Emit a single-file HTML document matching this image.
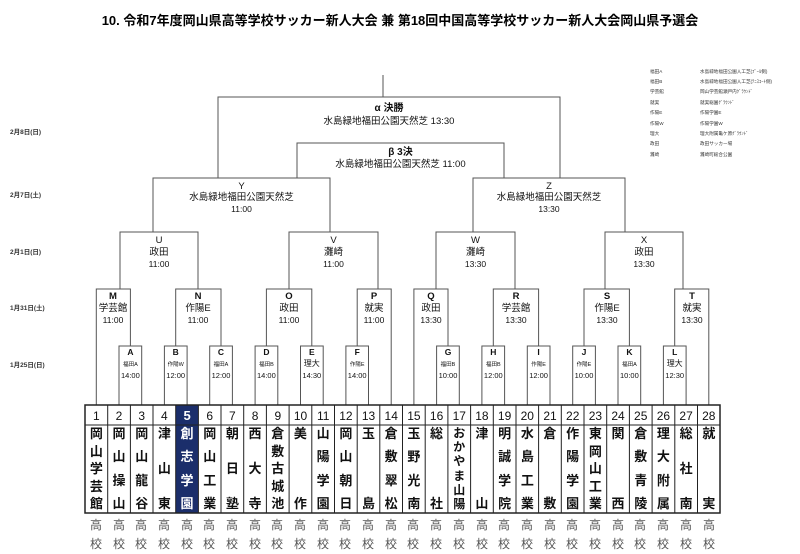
<!DOCTYPE html>
<html><head><meta charset="utf-8"><style>
html,body{margin:0;padding:0;background:#fff;}
body{width:800px;height:554px;position:relative;overflow:hidden;font-family:"Liberation Sans","Noto Sans CJK JP",sans-serif;}
svg{position:absolute;left:0;top:0;}
.nm{position:absolute;top:427px;height:84px;display:flex;flex-direction:column;justify-content:space-between;align-items:center;font-weight:bold;font-size:13px;line-height:14px;color:#111;}
.nm.c{justify-content:space-between;}
.hk{position:absolute;top:516px;font-size:12px;line-height:19px;color:#555;text-align:center;width:22px;}
</style></head><body>
<svg width="800" height="554" viewBox="0 0 800 554" font-family="Liberation Sans, Noto Sans CJK JP, sans-serif">
<text x="400" y="25" text-anchor="middle" font-size="13" font-weight="bold">10. 令和7年度岡山県高等学校サッカー新人大会 兼 第18回中国高等学校サッカー新人大会岡山県予選会</text>
<g font-size="6.5" fill="#333" font-weight="bold">
<text x="10" y="134">2月8日(日)</text>
<text x="10" y="197">2月7日(土)</text>
<text x="10" y="254">2月1日(日)</text>
<text x="10" y="310">1月31日(土)</text>
<text x="10" y="367">1月25日(日)</text>
</g>
<g font-size="4.6" fill="#333">
<text x="650" y="73">福田A</text><text x="700" y="73">水島緑地福田公園人工芝(ﾌﾟｰﾙ側)</text>
<text x="650" y="83">福田B</text><text x="700" y="83">水島緑地福田公園人工芝(ﾃﾆｽｺｰﾄ側)</text>
<text x="650" y="93">学芸館</text><text x="700" y="93">岡山学芸館瀬戸内ｸﾞﾗｳﾝﾄﾞ</text>
<text x="650" y="104">就実</text><text x="700" y="104">就実総園ｸﾞﾗｳﾝﾄﾞ</text>
<text x="650" y="114">作陽E</text><text x="700" y="114">作陽学園E</text>
<text x="650" y="125">作陽W</text><text x="700" y="125">作陽学園W</text>
<text x="650" y="135">理大</text><text x="700" y="135">理大附属亀ケ原ｸﾞﾗｳﾝﾄﾞ</text>
<text x="650" y="145">政田</text><text x="700" y="145">政田サッカー場</text>
<text x="650" y="156">灘崎</text><text x="700" y="156">灘崎町総合公園</text>
</g>
<g fill="none" stroke="#555" stroke-width="1">
<path d="M383,75V97M218,178V97H560V178M297,178V143H504V178"/>
<path d="M153,232V178H330V232M473,232V178H625V232"/>
<path d="M120,289V232H198V289M289,289V232H378V289M436,289V232H515V289M605,289V232H683V289"/>
<path d="M96.3,405V289H130.4V346M175.7,346V289H221V346M266.4,346V289H311.8V346M357.2,346V289H391.2V405"/>
<path d="M413.9,405V289H448V346M493.3,346V289H538.6V346M584,346V289H629.4V346M674.7,346V289H708.8V405"/>
<path d="M119,405V346H141.7V405M164.4,405V346H187.1V405M209.7,405V346H232.4V405M255.1,405V346H277.8V405M300.5,405V346H323.2V405M345.9,405V346H368.5V405"/>
<path d="M436.6,405V346H459.3V405M481.9,405V346H504.6V405M527.3,405V346H550V405M572.7,405V346H595.4V405M618,405V346H640.7V405M663.4,405V346H686.1V405"/>
</g>
<g text-anchor="middle" fill="#111">
<text x="389" y="111" font-size="10" font-weight="bold">α 決勝</text>
<text x="389" y="124" font-size="9.5">水島緑地福田公園天然芝 13:30</text>
<text x="400.5" y="155" font-size="10" font-weight="bold">β 3決</text>
<text x="400.5" y="167" font-size="9.5">水島緑地福田公園天然芝 11:00</text>
<g font-size="9.5">
<text x="241.5" y="189">Y</text><text x="241.5" y="200">水島緑地福田公園天然芝</text><text x="241.5" y="212" font-size="8.5">11:00</text>
<text x="549" y="189">Z</text><text x="549" y="200">水島緑地福田公園天然芝</text><text x="549" y="212" font-size="8.5">13:30</text>
<text x="159" y="243">U</text><text x="159" y="255">政田</text><text x="159" y="267" font-size="8.5">11:00</text>
<text x="333.5" y="243">V</text><text x="333.5" y="255">灘崎</text><text x="333.5" y="267" font-size="8.5">11:00</text>
<text x="475.5" y="243">W</text><text x="475.5" y="255">灘崎</text><text x="475.5" y="267" font-size="8.5">13:30</text>
<text x="644" y="243">X</text><text x="644" y="255">政田</text><text x="644" y="267" font-size="8.5">13:30</text>
</g>
<g font-size="9.5">
<text x="113" y="299" font-weight="bold">M</text><text x="113" y="311">学芸館</text><text x="113" y="323" font-size="8.5">11:00</text>
<text x="198" y="299" font-weight="bold">N</text><text x="198" y="311">作陽E</text><text x="198" y="323" font-size="8.5">11:00</text>
<text x="289" y="299" font-weight="bold">O</text><text x="289" y="311">政田</text><text x="289" y="323" font-size="8.5">11:00</text>
<text x="374" y="299" font-weight="bold">P</text><text x="374" y="311">就実</text><text x="374" y="323" font-size="8.5">11:00</text>
<text x="431" y="299" font-weight="bold">Q</text><text x="431" y="311">政田</text><text x="431" y="323" font-size="8.5">13:30</text>
<text x="516" y="299" font-weight="bold">R</text><text x="516" y="311">学芸館</text><text x="516" y="323" font-size="8.5">13:30</text>
<text x="607" y="299" font-weight="bold">S</text><text x="607" y="311">作陽E</text><text x="607" y="323" font-size="8.5">13:30</text>
<text x="692" y="299" font-weight="bold">T</text><text x="692" y="311">就実</text><text x="692" y="323" font-size="8.5">13:30</text>
</g>
<g font-size="8.5" font-weight="bold">
<text x="130.4" y="355">A</text><text x="175.7" y="355">B</text><text x="221" y="355">C</text><text x="266.4" y="355">D</text><text x="311.8" y="355">E</text><text x="357.2" y="355">F</text>
<text x="448" y="355">G</text><text x="493.3" y="355">H</text><text x="538.6" y="355">I</text><text x="584" y="355">J</text><text x="629.4" y="355">K</text><text x="674.7" y="355">L</text>
</g>
<g font-size="5.5">
<text x="130.4" y="366">福田A</text><text x="175.7" y="366">作陽W</text><text x="221" y="366">福田A</text><text x="266.4" y="366">福田B</text><text x="311.8" y="366" font-size="8">理大</text><text x="357.2" y="366">作陽E</text>
<text x="448" y="366">福田B</text><text x="493.3" y="366">福田B</text><text x="538.6" y="366">作陽E</text><text x="584" y="366">作陽E</text><text x="629.4" y="366">福田A</text><text x="674.7" y="366" font-size="8">理大</text>
</g>
<g font-size="7.5">
<text x="130.4" y="378">14:00</text><text x="175.7" y="378">12:00</text><text x="221" y="378">12:00</text><text x="266.4" y="378">14:00</text><text x="311.8" y="378">14:30</text><text x="357.2" y="378">14:00</text>
<text x="448" y="378">10:00</text><text x="493.3" y="378">12:00</text><text x="538.6" y="378">12:00</text><text x="584" y="378">10:00</text><text x="629.4" y="378">10:00</text><text x="674.7" y="378">12:30</text>
</g>
</g>
<rect x="175.7" y="405" width="22.7" height="108" fill="#1b2e6b"/>
<g stroke="#222" stroke-width="1" fill="none">
<rect x="85" y="405" width="635" height="108" stroke-width="1.5"/>
<line x1="85" y1="425" x2="720" y2="425"/>
<path d="M107.7,405V513M130.4,405V513M153,405V513M175.7,405V513M198.4,405V513M221,405V513M243.7,405V513M266.4,405V513M289.1,405V513M311.8,405V513M334.5,405V513M357.2,405V513M379.8,405V513M402.5,405V513M425.2,405V513M447.9,405V513M470.6,405V513M493.3,405V513M516,405V513M538.6,405V513M561.3,405V513M584,405V513M606.7,405V513M629.4,405V513M652.1,405V513M674.8,405V513M697.5,405V513"/>
</g>
<g font-size="12" text-anchor="middle" fill="#111">
<text x="96.3" y="420">1</text><text x="119" y="420">2</text><text x="141.7" y="420">3</text><text x="164.4" y="420">4</text><text x="187.1" y="420" fill="#fff" font-weight="bold" font-size="13">5</text><text x="209.7" y="420">6</text><text x="232.4" y="420">7</text><text x="255.1" y="420">8</text><text x="277.8" y="420">9</text><text x="300.5" y="420">10</text><text x="323.2" y="420">11</text><text x="345.9" y="420">12</text><text x="368.5" y="420">13</text><text x="391.2" y="420">14</text>
<text x="413.9" y="420">15</text><text x="436.6" y="420">16</text><text x="459.3" y="420">17</text><text x="481.9" y="420">18</text><text x="504.6" y="420">19</text><text x="527.3" y="420">20</text><text x="550" y="420">21</text><text x="572.7" y="420">22</text><text x="595.4" y="420">23</text><text x="618" y="420">24</text><text x="640.7" y="420">25</text><text x="663.4" y="420">26</text><text x="686.1" y="420">27</text><text x="708.8" y="420">28</text>
</g>
</svg>
<div class="nm" style="left:85px;width:22.7px"><span>岡</span><span>山</span><span>学</span><span>芸</span><span>館</span></div>
<div class="nm" style="left:107.7px;width:22.7px"><span>岡</span><span>山</span><span>操</span><span>山</span></div>
<div class="nm" style="left:130.4px;width:22.7px"><span>岡</span><span>山</span><span>龍</span><span>谷</span></div>
<div class="nm" style="left:153px;width:22.7px"><span>津</span><span>山</span><span>東</span></div>
<div class="nm" style="left:175.7px;width:22.7px;color:#fff"><span>創</span><span>志</span><span>学</span><span>園</span></div>
<div class="nm" style="left:198.4px;width:22.7px"><span>岡</span><span>山</span><span>工</span><span>業</span></div>
<div class="nm" style="left:221px;width:22.7px"><span>朝</span><span>日</span><span>塾</span></div>
<div class="nm" style="left:243.7px;width:22.7px"><span>西</span><span>大</span><span>寺</span></div>
<div class="nm" style="left:266.4px;width:22.7px"><span>倉</span><span>敷</span><span>古</span><span>城</span><span>池</span></div>
<div class="nm" style="left:289.1px;width:22.7px"><span>美</span><span>作</span></div>
<div class="nm" style="left:311.8px;width:22.7px"><span>山</span><span>陽</span><span>学</span><span>園</span></div>
<div class="nm" style="left:334.5px;width:22.7px"><span>岡</span><span>山</span><span>朝</span><span>日</span></div>
<div class="nm" style="left:357.2px;width:22.7px"><span>玉</span><span>島</span></div>
<div class="nm" style="left:379.8px;width:22.7px"><span>倉</span><span>敷</span><span>翠</span><span>松</span></div>
<div class="nm" style="left:402.5px;width:22.7px"><span>玉</span><span>野</span><span>光</span><span>南</span></div>
<div class="nm" style="left:425.2px;width:22.7px"><span>総</span><span>社</span></div>
<div class="nm" style="left:447.9px;width:22.7px;font-size:12px;line-height:13px"><span>お</span><span>か</span><span>や</span><span>ま</span><span>山</span><span>陽</span></div>
<div class="nm" style="left:470.6px;width:22.7px"><span>津</span><span>山</span></div>
<div class="nm" style="left:493.3px;width:22.7px"><span>明</span><span>誠</span><span>学</span><span>院</span></div>
<div class="nm" style="left:516px;width:22.7px"><span>水</span><span>島</span><span>工</span><span>業</span></div>
<div class="nm" style="left:538.6px;width:22.7px"><span>倉</span><span>敷</span></div>
<div class="nm" style="left:561.3px;width:22.7px"><span>作</span><span>陽</span><span>学</span><span>園</span></div>
<div class="nm" style="left:584px;width:22.7px"><span>東</span><span>岡</span><span>山</span><span>工</span><span>業</span></div>
<div class="nm" style="left:606.7px;width:22.7px"><span>関</span><span>西</span></div>
<div class="nm" style="left:629.4px;width:22.7px"><span>倉</span><span>敷</span><span>青</span><span>陵</span></div>
<div class="nm" style="left:652.1px;width:22.7px"><span>理</span><span>大</span><span>附</span><span>属</span></div>
<div class="nm" style="left:674.8px;width:22.7px"><span>総</span><span>社</span><span>南</span></div>
<div class="nm" style="left:697.5px;width:22.7px"><span>就</span><span>実</span></div>
<div class="hk" style="left:85px">高<br>校</div><div class="hk" style="left:108px">高<br>校</div><div class="hk" style="left:130px">高<br>校</div><div class="hk" style="left:153px">高<br>校</div><div class="hk" style="left:176px">高<br>校</div><div class="hk" style="left:198px">高<br>校</div><div class="hk" style="left:221px">高<br>校</div>
<div class="hk" style="left:244px">高<br>校</div><div class="hk" style="left:266px">高<br>校</div><div class="hk" style="left:289px">高<br>校</div><div class="hk" style="left:312px">高<br>校</div><div class="hk" style="left:334px">高<br>校</div><div class="hk" style="left:357px">高<br>校</div><div class="hk" style="left:380px">高<br>校</div>
<div class="hk" style="left:402px">高<br>校</div><div class="hk" style="left:425px">高<br>校</div><div class="hk" style="left:448px">高<br>校</div><div class="hk" style="left:471px">高<br>校</div><div class="hk" style="left:493px">高<br>校</div><div class="hk" style="left:516px">高<br>校</div><div class="hk" style="left:539px">高<br>校</div>
<div class="hk" style="left:561px">高<br>校</div><div class="hk" style="left:584px">高<br>校</div><div class="hk" style="left:607px">高<br>校</div><div class="hk" style="left:629px">高<br>校</div><div class="hk" style="left:652px">高<br>校</div><div class="hk" style="left:675px">高<br>校</div><div class="hk" style="left:698px">高<br>校</div>
</body></html>
